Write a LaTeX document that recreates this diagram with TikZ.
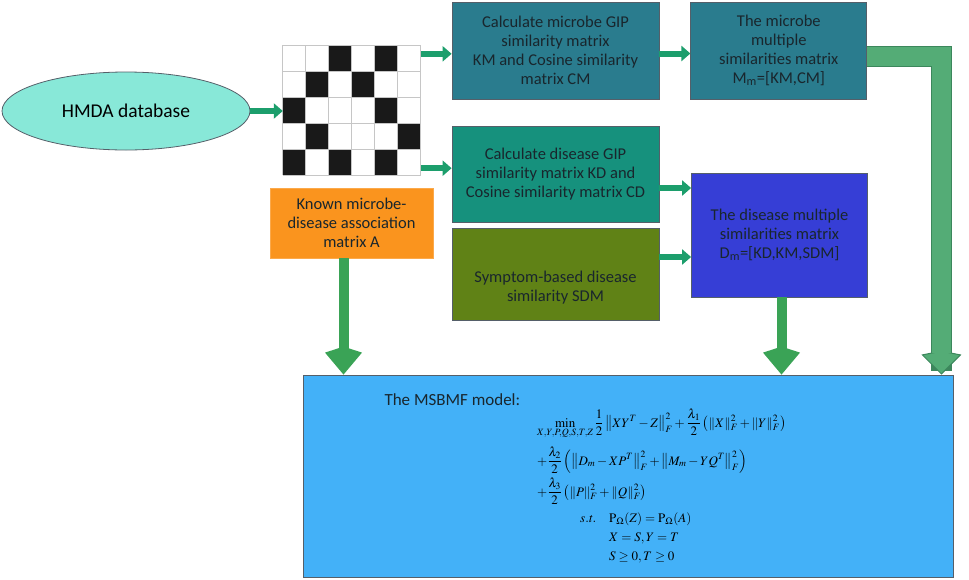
\documentclass[tikz,border=0pt]{standalone}
\usepackage{mathptmx}
\usepackage[no-math]{fontspec}
\setmainfont{Carlito}
\usetikzlibrary{arrows.meta,positioning,shapes.geometric}

\definecolor{dbcyan}{RGB}{136,232,216}
\definecolor{mteal}{RGB}{42,124,142}
\definecolor{dteal}{RGB}{22,145,125}
\definecolor{sympol}{RGB}{96,130,22}
\definecolor{dblue}{RGB}{54,62,214}
\definecolor{assocor}{RGB}{250,148,30}
\definecolor{modelbl}{RGB}{67,177,248}
\definecolor{flowgr}{RGB}{28,158,108}
\definecolor{bigar}{RGB}{58,163,86}
\definecolor{bandgr}{RGB}{84,172,118}
\definecolor{bandrim}{RGB}{60,135,92}
\definecolor{boxtxt}{RGB}{25,38,45}
\definecolor{boxrim}{RGB}{85,95,105}

\begin{document}
\begin{tikzpicture}[x=1pt,y=1pt,
    stepbox/.style={draw=boxrim, line width=.8pt, text=boxtxt, align=center, inner sep=2pt,
      font=\fontsize{16.5}{19}\selectfont},
    mathline/.style={anchor=base west, inner sep=0pt, font=\fontsize{13}{15}\selectfont},
    flow/.style={flowgr, line width=6pt, -{Triangle[width=15pt,length=9pt]}},
    bigflow/.style={bigar, line width=10pt, -{Kite[width=37pt,length=28pt,inset=6pt]}}]
        \def\cw{23}
        \def\ch{26}

        \useasboundingbox (0,0) rectangle (969,-579);

        \node [ellipse, draw=boxrim, line width=.8pt, fill=dbcyan, minimum width=248, minimum height=78,
          inner sep=0pt, text=black, font=\fontsize{19.5}{22}\selectfont] (db) at (126,-111) {HMDA database};

        % association matrix picture
        \node [minimum width=6*\cw, minimum height=5*\ch, inner sep=0pt, fill=white] (amat) at (352,-110) {};
        \foreach \c/\r in {3/1,5/1,2/2,4/2,1/3,5/3,2/4,6/4,1/5,3/5,5/5}
          \fill [black!90] ([shift={(\c*\cw-\cw,-\r*\ch+\ch)}]amat.north west) rectangle ++(\cw,-\ch) ;
        \draw [xstep=\cw pt, ystep=\ch pt, gray!45, line width=.9pt, shift={(amat.south west)}] (0,0) grid (6*\cw,5*\ch) ;

        \node [stepbox, fill=mteal, minimum width=207, minimum height=97] (mgip) at (555.5,-50.5)
          {Calculate microbe GIP\\similarity matrix\\KM and Cosine similarity\\matrix CM};
        \node [stepbox, fill=mteal, minimum width=176, minimum height=97, right=31 of mgip] (mmult)
          {The microbe\\multiple\\similarities matrix\\M\textsubscript{m}=[KM,CM]};
        \node [stepbox, fill=dteal, minimum width=207, minimum height=96] (dgip) at (555.5,-174)
          {Calculate disease GIP\\similarity matrix KD and\\Cosine similarity matrix CD};
        \node [stepbox, fill=sympol, minimum width=207, minimum height=92, text height=58pt] (symp) at (555.5,-274)
          {Symptom-based disease\\similarity SDM};
        \node [stepbox, fill=dblue, minimum width=176, minimum height=124] (dmult) at (779.5,-235)
          {The disease multiple\\similarities matrix\\D\textsubscript{m}=[KD,KM,SDM]};
        \node [stepbox, draw=assocor!80!white, fill=assocor, minimum width=163, minimum height=70] (assoc) at (351.5,-223)
          {Known microbe-\\disease association\\matrix A};
        \node [draw=boxrim, line width=.8pt, fill=modelbl, minimum width=650, minimum height=202] (model) at (628,-476) {};
        \node [text=boxtxt, anchor=west, font=\fontsize{17}{20}\selectfont] (mtitle) at (381,-400) {The MSBMF model:};

        % objective, one line per node
        \node [mathline] (obj1) at (537,-427)
          {$\displaystyle\min_{X,Y,P,Q,S,T,Z}\frac{1}{2}\left\|XY^T-Z\right\|_F^2+\frac{\lambda_1}{2}\left(\|X\|_F^2+\|Y\|_F^2\right)$};
        \node [mathline] (obj2) at (537,-465)
          {$\displaystyle+\frac{\lambda_2}{2}\left(\left\|D_m-XP^T\right\|_F^2+\left\|M_m-YQ^T\right\|_F^2\right)$};
        \node [mathline] (obj3) at (537,-496)
          {$\displaystyle+\frac{\lambda_3}{2}\left(\|P\|_F^2+\|Q\|_F^2\right)$};
        \node [mathline] (st) at (580,-522) {$\mathit{s.t.}$};
        \node [mathline] (con1) at (609,-522) {$\mathrm{P}_\Omega(Z)=\mathrm{P}_\Omega(A)$};
        \node [mathline] (con2) at (609,-541) {$X=S,Y=T$};
        \node [mathline] (con3) at (609,-560) {$S\ge0,T\ge0$};

        % small arrows
        \draw [flow] (db.east) -- (db.east -| amat.west) ;
        \draw [flow] ([yshift=-9]amat.north east) -- ([yshift=-9]amat.north east -| mgip.west) ;
        \draw [flow] ([yshift=7]amat.south east) -- ([yshift=7]amat.south east -| dgip.west) ;
        \draw [flow] ([yshift=-3]mgip.east) -- ([yshift=-3]mgip.east -| mmult.west) ;
        \draw [flow] ([yshift=-14]dgip.east) -- ([yshift=-14]dgip.east -| dmult.west) ;
        \draw [flow] ([yshift=17]symp.east) -- ([yshift=17]symp.east -| dmult.west) ;

        % big arrows into the model
        \draw [bigflow] ([xshift=-8]assoc.south) -- ([xshift=-8]assoc.south |- model.north) ;
        \draw [bigflow] ([xshift=2]dmult.south) -- ([xshift=2]dmult.south |- model.north) ;
        \coordinate (rtip) at ([xshift=-12]model.north east) ;
        \draw [bandrim, line width=21pt, line join=miter,
          -{Kite[width=40pt,length=24pt,inset=4pt,line width=1pt,fill=bandgr]}] ([yshift=-6]mmult.east) -| (rtip) ;
        \draw [bandgr, line width=19pt, line join=miter, shorten >=22pt] ([yshift=-6]mmult.east) -| (rtip) ;
      \end{tikzpicture}
\end{document}
